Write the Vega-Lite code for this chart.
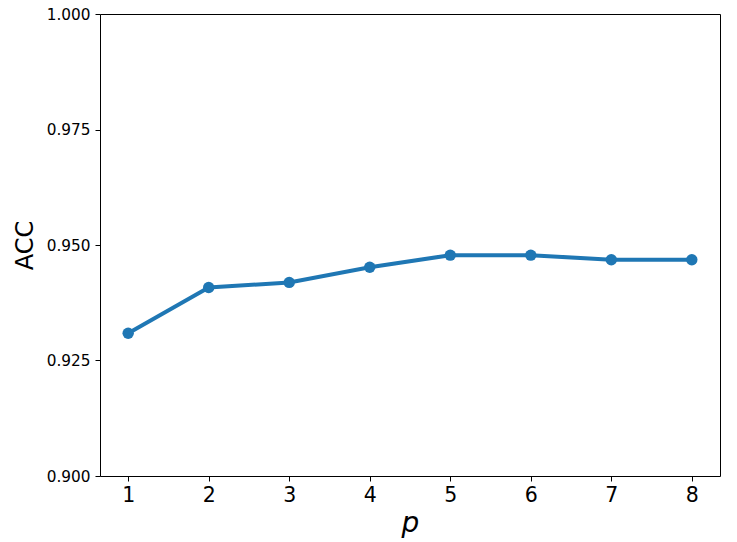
{
  "$schema": "https://vega.github.io/schema/vega-lite/v6.json",
  "width": 620,
  "height": 462,
  "autosize": {"type": "none"},
  "padding": {"left": 100, "top": 14, "right": 17, "bottom": 66},
  "background": "white",
  "config": {
    "view": {"stroke": "black", "strokeWidth": 1},
    "font": "DejaVu Sans",
    "axis": {
      "grid": false,
      "domain": false,
      "tickColor": "black",
      "tickSize": 5,
      "tickWidth": 1,
      "labelColor": "black",
      "titleColor": "black",
      "labelFont": "DejaVu Sans",
      "titleFont": "DejaVu Sans",
      "titleFontWeight": "normal"
    }
  },
  "data": {
    "values": [
      {"p": 1, "acc": 0.9309},
      {"p": 2, "acc": 0.9408},
      {"p": 3, "acc": 0.9419},
      {"p": 4, "acc": 0.9452},
      {"p": 5, "acc": 0.9478},
      {"p": 6, "acc": 0.9478},
      {"p": 7, "acc": 0.9468},
      {"p": 8, "acc": 0.9468}
    ]
  },
  "mark": {
    "type": "line",
    "color": "#1f77b4",
    "strokeWidth": 4,
    "point": {"filled": true, "size": 130, "color": "#1f77b4", "opacity": 1}
  },
  "encoding": {
    "x": {
      "field": "p",
      "type": "quantitative",
      "scale": {"domain": [0.65, 8.35], "nice": false, "zero": false},
      "axis": {
        "values": [1, 2, 3, 4, 5, 6, 7, 8],
        "labelFontSize": 20.5,
        "labelPadding": 4,
        "title": "p",
        "titleFontSize": 28,
        "titleFontStyle": "italic",
        "titlePadding": 4
      }
    },
    "y": {
      "field": "acc",
      "type": "quantitative",
      "scale": {"domain": [0.9, 1.0], "nice": false, "zero": false},
      "axis": {
        "values": [0.9, 0.925, 0.95, 0.975, 1.0],
        "format": ".3f",
        "labelFontSize": 15.3,
        "labelPadding": 5,
        "title": "ACC",
        "titleFontSize": 24,
        "titlePadding": 9
      }
    }
  }
}
